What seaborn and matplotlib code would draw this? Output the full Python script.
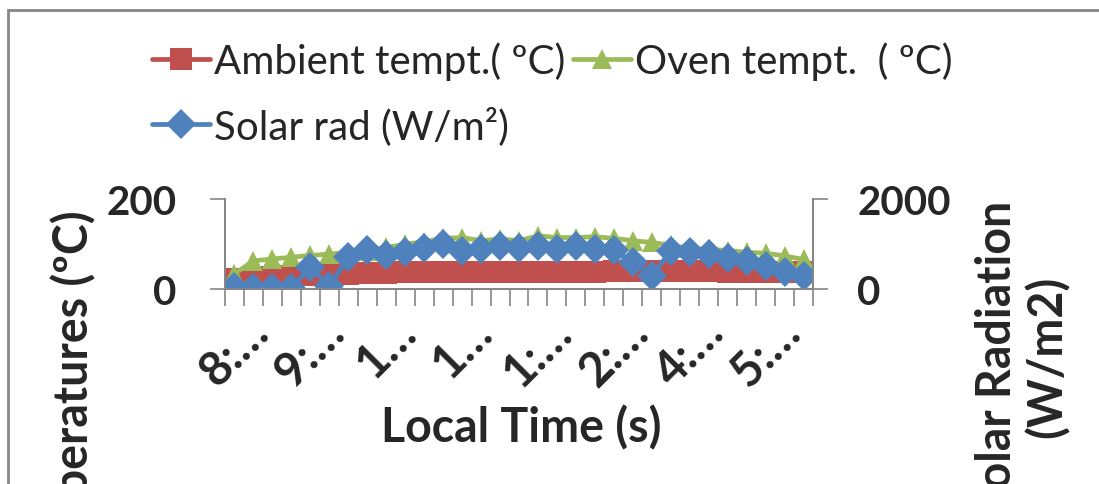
import numpy as np
import pandas as pd
import matplotlib
matplotlib.use("Agg")
import matplotlib.pyplot as plt
import seaborn as sns
from matplotlib.patches import Rectangle
from matplotlib.transforms import ScaledTranslation

# ---------------- data ----------------
tick_labels = ["8:…", "9:…", "1…", "1…", "1:…", "2:…", "4:…", "5:…"]
label_step = 4

ambient = [22, 24, 27, 29, 31, 32, 33, 35, 36, 37, 37, 38, 38, 38, 38, 39,
           39, 39, 39, 39, 40, 40, 40, 40, 40, 40, 39, 39, 38, 38, 37]
oven = [34, 63, 67, 71, 75, 78, 82, 86, 93, 100, 106, 113, 115, 108, 112, 108,
        119, 115, 115, 117, 113, 108, 104, 98, 91, 89, 86, 82, 80, 74, 66]
solar = [40, 20, 20, 20, 500, 60, 710, 880, 760, 830, 910, 1000, 860, 890, 960,
         910, 960, 900, 960, 900, 870, 600, 300, 850, 820, 780, 700, 630, 510,
         380, 300]

names = ["Ambient tempt.( ºC)", "Oven tempt.  ( ºC)", "Solar rad (W/m²)"]
colors = ["#C0504D", "#9BBB59", "#4F81BD"]

n = len(ambient)
df = pd.DataFrame({"pos": np.arange(n), "ambient": ambient, "oven": oven,
                   "solar": solar})

sns.set_theme(style="white")
plt.rcParams["font.family"] = ["Lato", "DejaVu Sans"]

W, H = 1099, 485
fig = plt.figure(figsize=(W / 100, H / 100), dpi=100)
ax = fig.add_axes([225 / W, 1 - 290 / H, (813 - 225) / W, 89.5 / H])
ax2 = ax.twinx()

lw = 3.4
sns.lineplot(data=df, x="pos", y="ambient", ax=ax, color=colors[0], lw=lw,
             marker="s", markersize=15.5, markeredgewidth=0, legend=False)
sns.lineplot(data=df, x="pos", y="oven", ax=ax, color=colors[1], lw=lw,
             marker="^", markersize=15, markeredgewidth=0, legend=False)
sns.lineplot(data=df, x="pos", y="solar", ax=ax2, color=colors[2], lw=lw,
             marker="D", markersize=15, markeredgewidth=0, legend=False)

gray = "#868686"
ax.set_xlim(-0.5, n - 0.5)
ax.set_ylim(0, 200)
ax2.set_ylim(0, 2000)
ax.set_yticks([0, 200])
ax2.set_yticks([0, 2000])

# boundary tick marks (major, no labels); labels at category centres (minor)
ax.set_xticks(np.arange(n + 1) - 0.5)
ax.set_xticklabels([])
ax.set_xticks(np.arange(0, n, label_step)[:len(tick_labels)], minor=True)
ax.set_xticklabels(tick_labels, minor=True, rotation=45, ha="center",
                   va="top", fontsize=34, fontweight="bold")
shift = ScaledTranslation(11 / 100, -4 / 100, fig.dpi_scale_trans)
for lab in ax.get_xticklabels(minor=True):
    lab.set_transform(lab.get_transform() + shift)
ax.tick_params(axis="x", which="major", length=12, width=1.2, color=gray,
               direction="out", bottom=True)
ax.tick_params(axis="x", which="minor", length=0, pad=14, bottom=True)
ax.tick_params(axis="y", which="major", length=11, width=1.2, color=gray,
               direction="out", left=True, pad=24, labelsize=29)
ax2.tick_params(axis="y", which="major", length=11, width=1.2, color=gray,
                direction="out", right=True, pad=21, labelsize=29)
for a in (ax, ax2):
    for lab in a.get_yticklabels():
        lab.set_fontweight("bold")
    a.spines["top"].set_visible(False)
    for s in ["left", "right", "bottom"]:
        a.spines[s].set_color(gray)
        a.spines[s].set_linewidth(1.4)
ax.set_xlabel("")
ax.set_ylabel("")
ax2.set_ylabel("")
ax.grid(False)
ax2.grid(False)

# axis titles
fig.text(521 / W, 1 - 428 / H, "Local Time (s)", ha="center", va="center",
         fontsize=33.5, fontweight="bold")
fig.text(73 / W, 1 - 210 / H, "Temperatures (ºC)", rotation=90, ha="center",
         va="top", fontsize=33.5, fontweight="bold")
fig.text(1022 / W, 1 - 357 / H, "Solar Radiation\n(W/m2)", rotation=90,
         ha="center", va="center", fontsize=33.5, fontweight="bold",
         multialignment="center", linespacing=1.15)

# legend
h_amb = ax.lines[0]
h_oven = ax.lines[1]
h_sol = ax2.lines[0]
leg = fig.legend([h_amb, h_sol, h_oven], [names[0], names[2], names[1]],
                 ncol=2, loc="upper left", bbox_to_anchor=(152 / W, 1 - 42 / H),
                 frameon=False, fontsize=29, handlelength=1.45, handletextpad=0.08,
                 columnspacing=0.2, labelspacing=0.65, borderpad=0,
                 borderaxespad=0, markerscale=1.0)

# chart border (top and left edges visible)
fig.add_artist(Rectangle((8 / W, -0.5), 2, 1.5 - 11 / H, transform=fig.transFigure,
                         fill=False, edgecolor=gray, linewidth=2))

fig.savefig("out.png", dpi=100)
